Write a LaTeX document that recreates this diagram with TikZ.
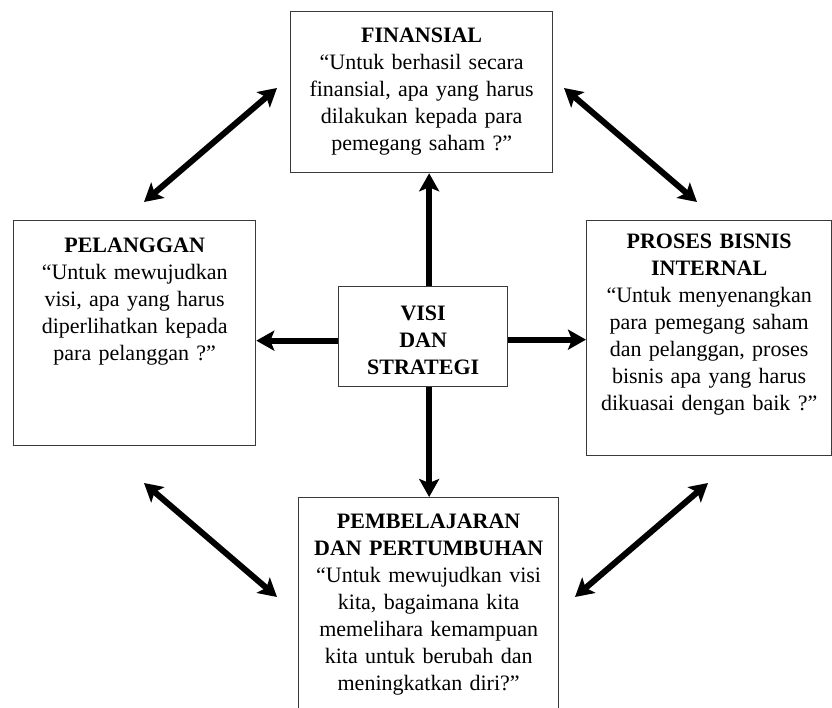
\documentclass[tikz,border=0pt]{standalone}
\usepackage{fontspec}
\setmainfont{Liberation Serif}
\usepackage{tikz}
\usetikzlibrary{arrows.meta,positioning,calc}
\definecolor{garis}{HTML}{3A3A3A}
\tikzset{
  kotak/.style={rectangle, draw=garis, line width=1.3pt, inner sep=0pt, align=center,
                anchor=north west, font=\fontsize{22}{27}\selectfont},
  panah/.style={-{Stealth[length=18pt, width=20pt, inset=4pt]}, line width=6pt},
  panahdua/.style={{Stealth[length=18pt, width=20pt, inset=4pt]}-{Stealth[length=18pt, width=20pt, inset=4pt]}, line width=6pt},
}

\begin{document}
\begin{tikzpicture}[x=1pt, y=-1pt]
    \useasboundingbox (0,0) rectangle (832,707);
    \node[kotak, text width=262pt, text height=31pt, text depth=130pt] (fin) at (290,11)
      {\textbf{FINANSIAL}\\“Untuk berhasil secara\\finansial, apa yang harus\\
       dilakukan kepada para\\pemegang saham ?”};
    \node[kotak, text width=242pt, text height=32pt, text depth=193pt] (pel) at (13,220)
      {\textbf{PELANGGAN}\\“Untuk mewujudkan\\visi, apa yang harus\\
       diperlihatkan kepada\\para pelanggan ?”};
    \node[kotak, text width=245pt, text height=28pt, text depth=207pt] (pro) at (586,220)
      {\textbf{PROSES BISNIS}\\\textbf{INTERNAL}\\“Untuk menyenangkan\\para pemegang saham\\
       dan pelanggan, proses\\bisnis apa yang harus\\dikuasai dengan baik ?”};
    \node[kotak, text width=260pt, text height=31pt, text depth=190pt] (pem) at (298,497)
      {\textbf{PEMBELAJARAN}\\\textbf{DAN PERTUMBUHAN}\\“Untuk mewujudkan visi\\
       kita, bagaimana kita\\memelihara kemampuan\\kita untuk berubah dan\\meningkatkan diri?”};
    \node[kotak, text width=169pt, text height=34pt, text depth=66pt] (vis) at (338,286)
      {\textbf{VISI}\\\textbf{DAN}\\\textbf{STRATEGI}};
    % panah dari pusat
    \draw[panah] ([xshift=6pt]vis.north) -- ([xshift=6pt]vis.north |- fin.south);
    \draw[panah] ([xshift=6pt]vis.south) -- ([xshift=6pt]vis.south |- pem.north);
    \draw[panah] ([yshift=-4pt]vis.west) -- ([yshift=-4pt]vis.west -| pel.east);
    \draw[panah] ([yshift=-3pt]vis.east) -- ([yshift=-3pt]vis.east -| pro.west);
    % panah diagonal
    \coordinate (ka1) at (144,202); \coordinate (ka2) at (277,88);
    \coordinate (kn1) at (564,88);  \coordinate (kn2) at (697,202);
    \coordinate (kb1) at (144,483); \coordinate (kb2) at (277,597);
    \coordinate (nb1) at (575,597); \coordinate (nb2) at (708,483);
    \draw[panahdua] (ka1) -- (ka2);
    \draw[panahdua] (kn1) -- (kn2);
    \draw[panahdua] (kb1) -- (kb2);
    \draw[panahdua] (nb1) -- (nb2);
  \end{tikzpicture}
\end{document}
